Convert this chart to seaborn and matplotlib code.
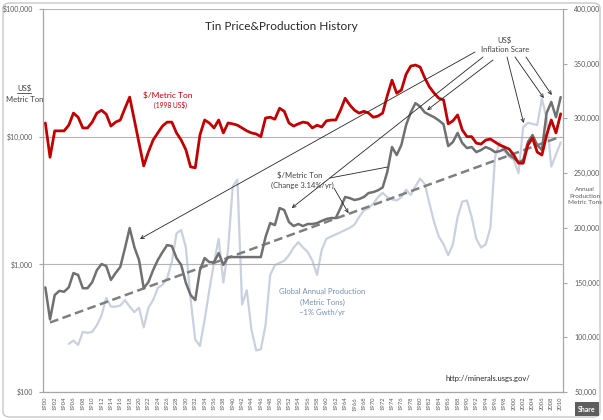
import matplotlib
matplotlib.use("Agg")
import matplotlib.pyplot as plt
import seaborn as sns
from matplotlib.patches import FancyBboxPatch
from matplotlib.lines import Line2D
from matplotlib.ticker import NullLocator

# --- data ---
years = list(range(1900, 2011))

# tin price, $/metric ton in 1998 US$ (red)
real_price = [
    12800, 6900, 11100, 11100, 11100, 12300, 15300, 14200, 11700, 11700,
    13000, 15300, 16100, 15000, 12100, 13000, 13500, 16700, 20400, 13500,
    8900, 5900, 7600, 9400, 10700, 12100, 13000, 13000, 10700, 9400,
    7900, 5800, 5700, 10300, 13500, 12800, 11700, 13500, 10700, 12800,
    12600, 12300, 11700, 11100, 10700, 10500, 10000, 14000, 14200, 13700,
    16700, 15800, 12800, 12100, 12600, 13000, 12800, 11700, 12300, 11900,
    13300, 13500, 13500, 16100, 20000, 17700, 16100, 15300, 15800, 15300,
    14200, 14500, 15300, 21000, 27700, 21900, 23200, 30800, 35700, 36400,
    35100, 28800, 24500, 21900, 20000, 19400, 12600, 13300, 14800, 11300,
    10000, 10000, 8900, 8750, 9400, 9580, 9080, 8600, 8300, 8000,
    7180, 6200, 6200, 8600, 9750, 7570, 7180, 10300, 13500, 10700,
    15100,
]

# tin price, $/metric ton nominal (grey)
nominal_price = [
    660, 370, 575, 620, 610, 660, 855, 825, 650, 650,
    725, 900, 1005, 970, 755, 855, 955, 1340, 1925, 1365,
    1080, 650, 725, 900, 1080, 1245, 1415, 1390, 1120, 990,
    715, 575, 525, 900, 1120, 1040, 1040, 1225, 990, 1140,
    1140, 1140, 1140, 1140, 1140, 1140, 1140, 1635, 2105, 2030,
    2760, 2660, 2145, 1995, 2070, 1995, 2070, 2070, 2105, 2190,
    2265, 2305, 2305, 2760, 3370, 3300, 3190, 3250, 3370, 3620,
    3680, 3800, 4000, 5300, 8300, 7180, 8600, 12300, 15500, 18300,
    17200, 15500, 14800, 14200, 13400, 12500, 8440, 9080, 10700, 8910,
    8140, 8300, 7570, 7860, 8300, 8000, 7570, 7700, 8000, 7180,
    6800, 6300, 6550, 9080, 10300, 8600, 7860, 15300, 18700, 14200,
    20400,
]

# trend of nominal price (3.14 %/yr), end points
trend_years = [1901, 2010]
trend_price = [350, 10000]

# global annual production, thousand metric tons (light blue-grey)
prod_years = list(range(1905, 2011))
production = [
    94, 97, 93, 105, 104,
    105, 111, 120, 136, 128, 128, 129, 134, 128, 123,
    127, 109, 127, 134, 145, 148, 154, 169, 195, 198,
    182, 135, 98, 92, 116, 143, 168, 190, 150, 180,
    238, 244, 130, 143, 107, 88, 89, 111, 157, 166,
    168, 170, 175, 182, 187, 182, 178, 170, 157, 180,
    190, 192, 194, 196, 198, 200, 203, 210, 216, 218,
    222, 228, 232, 228, 226, 225, 228, 235, 230, 238,
    245, 240, 222, 205, 192, 185, 175, 185, 210, 224,
    225, 210, 190, 182, 185, 200, 265, 278, 270, 265,
    262, 250, 292, 296, 295, 294, 318, 300, 256, 267,
    278,
]

right_ticks = list(range(50000, 400001, 50000))
left_ticks = [100, 1000, 10000, 100000]
left_labels = ["$100", "$1,000", "$10,000", "$100,000"]

sns.set_style("white")
plt.rcParams['font.family'] = ['Lato', 'DejaVu Sans']

W, H = 603, 420
fig = plt.figure(figsize=(W / 100, H / 100), dpi=100)
ax = fig.add_axes([43 / W, 1 - 392 / H, 520 / W, 383 / H])
ax2 = ax.twinx()


def fp(x, y):
    # pixel position on the 603x420 canvas -> figure fraction
    return (x / W, 1 - y / H)


# production on the right axis, drawn behind the prices
sns.lineplot(x=prod_years, y=[p * 1000 for p in production], ax=ax2,
             color='#c9d1de', lw=1.6)
ax2.set_ylim(50000, 400000)
ax2.set_yticks(right_ticks)
ax2.set_yticklabels([f"{v:,}" for v in right_ticks])
ax2.set_ylabel('')
ax2.tick_params(axis='y', length=3, color='#a6a6a6', labelsize=5,
                labelcolor='#595959', pad=5)
for s in ['left', 'top', 'bottom']:
    ax2.spines[s].set_visible(False)
ax2.spines['right'].set_color('#a6a6a6')
ax2.spines['right'].set_linewidth(0.9)

ax.set_zorder(ax2.get_zorder() + 1)
ax.patch.set_visible(False)

sns.lineplot(x=trend_years, y=trend_price, ax=ax, color='#7f7f7f', lw=1.8)
ax.get_lines()[-1].set_dashes([3.5, 1.8])
sns.lineplot(x=years, y=nominal_price, ax=ax, color='#707070', lw=1.8)
sns.lineplot(x=years, y=real_price, ax=ax, color='#c00000', lw=2.0)

ax.set_yscale('log')
ax.set_ylim(100, 100000)
ax.set_xlim(1899.5, 2010.5)
ax.yaxis.set_minor_locator(NullLocator())
ax.set_yticks(left_ticks)
ax.set_yticklabels(left_labels)
ax.set_xticks(years)
ax.set_xticklabels([str(y) if y % 2 == 0 else '' for y in years],
                   rotation=90)
ax.set_xlabel('')
ax.set_ylabel('')
ax.tick_params(axis='y', length=3, color='#a6a6a6', labelsize=5,
               labelcolor='#595959', pad=4)
ax.tick_params(axis='x', length=2.5, color='#a6a6a6', labelsize=4.2,
               labelcolor='#595959', pad=1)
ax.yaxis.grid(True, color='#b4b4b4', lw=0.8)
ax.xaxis.grid(False)
ax.spines['top'].set_visible(False)
ax.spines['right'].set_visible(False)
for s in ['left', 'bottom']:
    ax.spines[s].set_color('#a6a6a6')
    ax.spines[s].set_linewidth(0.9)

# --- texts ---
fig.text(*fp(281, 26), "Tin Price&Production History", fontsize=8.5,
         color='#262626', ha='center', va='center')
fig.text(*fp(24, 88), "US$", fontsize=5.5, color='#404040',
         ha='center', va='center')
fig.add_artist(Line2D([17 / W, 31 / W], [1 - 92.5 / H, 1 - 92.5 / H],
                      color='#404040', lw=0.6))
fig.text(*fp(25, 99), "Metric Ton", fontsize=5.5, color='#404040',
         ha='center', va='center')
fig.text(*fp(168, 95), "$/Metric Ton", fontsize=6, color='#c00000',
         ha='center', va='center')
fig.text(*fp(170, 105), "(1998 US$)", fontsize=4.8, color='#c00000',
         ha='center', va='center')
fig.text(*fp(505, 40), "US$", fontsize=5.5, color='#404040',
         ha='center', va='center')
fig.text(*fp(505, 49), "Inflation Scare", fontsize=5.5, color='#404040',
         ha='center', va='center')
fig.text(*fp(300, 175), "$/Metric Ton", fontsize=5.5, color='#404040',
         ha='center', va='center')
fig.text(*fp(302, 185), "(Change 3.14%/yr)", fontsize=5.5,
         color='#404040', ha='center', va='center')
fig.text(*fp(322, 292), "Global Annual Production", fontsize=5.5,
         color='#7590b4', ha='center', va='center')
fig.text(*fp(322, 302), "(Metric Tons)", fontsize=5.5,
         color='#7590b4', ha='center', va='center')
fig.text(*fp(322, 312), "~1% Gwth/yr", fontsize=5.5,
         color='#7590b4', ha='center', va='center')
fig.text(*fp(585, 196), "Annual\nProduction\nMetric Tons", fontsize=4.6,
         color='#595959', ha='center', va='center', linespacing=1.3)
fig.text(*fp(488, 378), "http://minerals.usgs.gov/", fontsize=5.5,
         color='#262626', ha='center', va='center')
fig.text(*fp(587, 409), "Share", fontsize=5, color='white',
         fontweight='bold', ha='center', va='center',
         bbox=dict(boxstyle='square,pad=0.45', fc='#5e5e5e', ec='none'))

# --- arrows (heads in data coordinates) ---
arrow = dict(arrowstyle='->', color='#262626', lw=0.6,
             shrinkA=0, shrinkB=0, mutation_scale=6)
arrows = [
    ((475, 52), (1920.2, 1580)),
    ((483, 57), (1952.6, 2760)),
    ((493, 60), (1981.5, 16150)),
    ((507, 57), (2002.1, 12800)),
    ((515, 57), (2006.4, 20050)),
    ((526, 57), (2008.1, 21200)),
    ((334, 188), (1964.7, 2520)),
]
for start, head in arrows:
    ax.annotate("", xy=head, xycoords='data', xytext=fp(*start),
                textcoords='figure fraction', arrowprops=arrow)
ax.annotate("", xy=(1973.0, 5780), xycoords='data', xytext=fp(330, 178),
            textcoords='figure fraction',
            arrowprops=dict(arrowstyle='-', color='#262626', lw=0.6,
                            shrinkA=0, shrinkB=0))

# chart border
fig.add_artist(FancyBboxPatch((3 / W, 3 / H), (W - 6) / W, (H - 6) / H,
                              boxstyle='round,pad=0,rounding_size=0.012',
                              transform=fig.transFigure, fill=False,
                              ec='#c8c8c8', lw=1.0))

fig.savefig('out.png', dpi=100)
